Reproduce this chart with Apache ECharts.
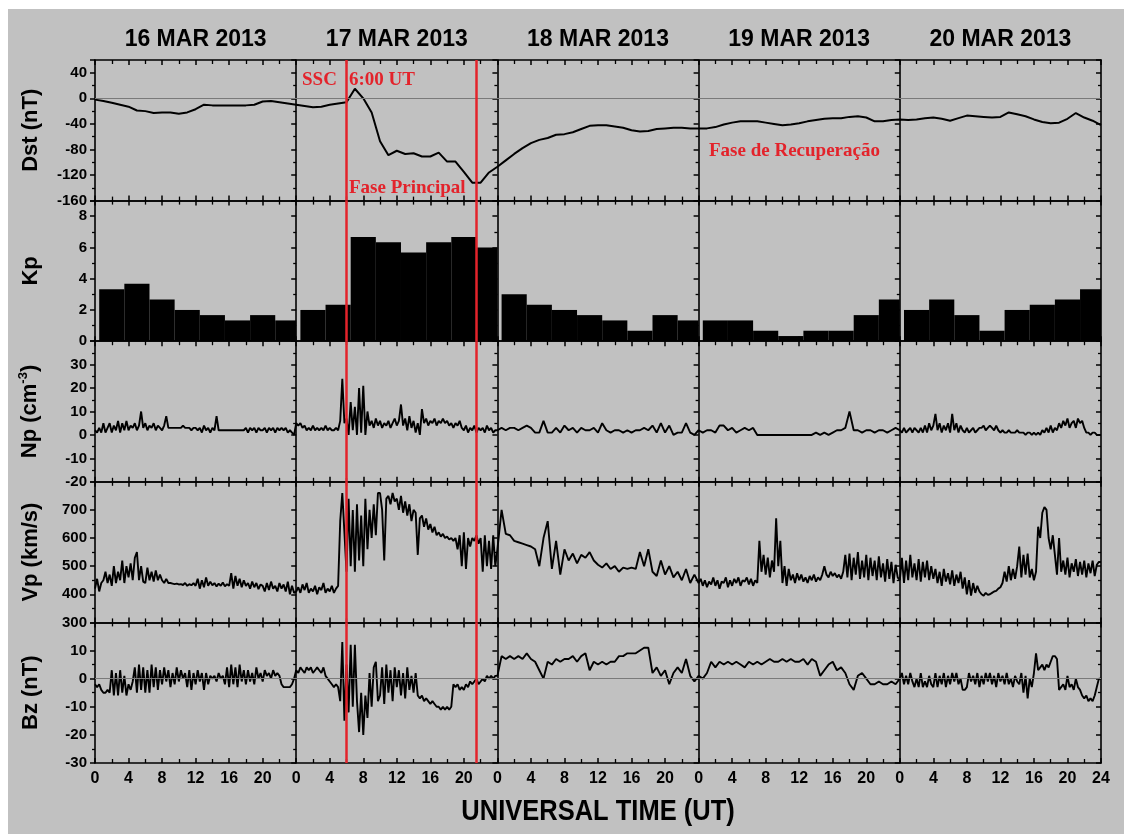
<!DOCTYPE html>
<html>
<head>
<meta charset="utf-8">
<script src="https://cdn.jsdelivr.net/npm/echarts@6/dist/echarts.min.js"></script>
<style>
html, body { margin: 0; padding: 0; background: #fff; }
#main { width: 1124px; height: 834px; }
</style>
</head>
<body>
<div id="main"></div>
<script>
// dias
var days = ['16 MAR 2013', '17 MAR 2013', '18 MAR 2013', '19 MAR 2013', '20 MAR 2013'];

// Dst horario (nT), 0h do dia 16 ate 24h do dia 20
var dst = [
    -2, -4, -7, -10, -13, -19, -20, -23, -22, -22, -24, -22, -17, -10, -11, -11, -11, -11, -11, -10, -5, -4, -6, -8,
    -10, -12, -14, -13, -10, -8, -6, 15, 0, -22, -67, -89, -82, -87, -86, -91, -91, -85, -99, -99, -115, -132, -132, -116,
    -107, -97, -87, -78, -70, -65, -62, -57, -56, -53, -48, -43, -42, -42, -44, -46, -50, -52, -51, -48, -47, -46, -46, -47,
    -47, -47, -45, -41, -38, -36, -36, -36, -38, -40, -42, -41, -39, -36, -34, -32, -31, -31, -29, -28, -30, -36, -36, -34,
    -33, -34, -33, -31, -30, -32, -35, -31, -27, -28, -29, -30, -29, -22, -25, -28, -33, -37, -39, -38, -32, -23, -30, -35,
    -42
];

// Kp a cada 3 horas
var kp = [
    3.33, 3.67, 2.67, 2, 1.67, 1.33, 1.67, 1.33,
    2, 2.33, 6.67, 6.33, 5.67, 6.33, 6.67, 6,
    3, 2.33, 2, 1.67, 1.33, 0.67, 1.67, 1.33,
    1.33, 1.33, 0.67, 0.33, 0.67, 0.67, 1.67, 2.67,
    2, 2.67, 1.67, 0.67, 2, 2.33, 2.67, 3.33
];

// Np (cm-3) -- 48 pontos/dia = 30 min, 96 pontos/dia = 15 min
var np16 = [
    2, 1, 3, 1, 5, 1, 3, 5, 1, 4, 2, 6, 1, 5, 2, 6, 2, 4, 3, 5, 2, 4, 10, 3,
    5, 2, 4, 3, 5, 2, 4, 3, 2, 4, 8, 3, 3, 3, 3, 3, 3, 3, 4, 3, 3, 3, 2, 3,
    3, 2, 3, 1, 4, 2, 3, 1, 3, 2, 8, 2, 2, 2, 2, 2, 2, 2, 2, 2, 2, 2, 2, 2,
    3, 1, 3, 2, 3, 1, 3, 2, 2, 3, 1, 3, 2, 3, 1, 3, 2, 3, 2, 3, 1, 2, 1, 0
];
var np17 = [
    5, 4, 5, 3, 4, 2, 3, 2, 4, 2, 3, 2, 3, 2, 4, 2, 3, 2, 2, 3, 2, 6, 24, 5,
    7, 0, 14, 2, 12, 0, 20, 1, 21, 0, 10, 4, 6, 3, 7, 4, 6, 3, 5, 4, 6, 3, 5, 7,
    4, 6, 13, 4, 7, 2, 8, 3, 6, 1, 5, 0, 11, 5, 7, 4, 6, 5, 7, 4, 6, 5, 7, 5,
    6, 4, 5, 3, 5, 4, 6, 3, 2, 4, 1, 3, 2, 4, 1, 3, 2, 3, 1, 4, 2, 3, 1, 2
];
var np18 = [2, 3, 2, 3, 3, 2, 3, 4, 3, 1, 1, 6, 1, 1, 3, 1, 4, 2, 3, 1, 3, 2, 2, 3, 1, 5, 2, 1, 2, 2, 1, 2, 1, 2, 2, 3, 2, 4, 1, 5, 1, 4, 0, 1, 1, 5, 1, 0];
var np19 = [2, 1, 2, 2, 1, 4, 4, 2, 3, 1, 2, 3, 2, 3, 0, 0, 0, 0, 0, 0, 0, 0, 0, 0, 0, 0, 0, 0, 1, 0, 1, 0, 1, 2, 2, 3, 10, 2, 2, 1, 2, 2, 1, 2, 2, 1, 2, 3];
var np20 = [
    2, 1, 3, 1, 2, 3, 1, 3, 2, 1, 3, 1, 4, 1, 5, 2, 4, 9, 2, 5, 1, 4, 2, 5,
    1, 9, 2, 5, 1, 4, 2, 1, 3, 1, 2, 3, 1, 2, 3, 3, 4, 2, 3, 4, 3, 2, 4, 2,
    1, 2, 1, 1, 2, 1, 1, 1, 2, 1, 1, 1, 0, 1, 1, 0, 1, 0, 1, 0, 2, 1, 3, 1,
    4, 1, 3, 2, 5, 3, 6, 4, 7, 3, 5, 6, 3, 7, 5, 6, 3, 1, 1, 0, 1, 1, 0, 0
];

// Vp (km/s)
var vp16 = [
    420, 455, 410, 440, 450, 480, 440, 470, 430, 500, 440, 480, 450, 520, 440, 500,
    460, 510, 450, 530, 550, 450, 500, 445, 440, 495, 450, 480, 445, 485, 450, 470,
    450, 440, 455, 440, 440, 438, 436, 438, 435, 436, 433, 440, 430, 436, 432, 440,
    430, 455, 420, 450, 425, 460, 430, 445, 432, 440, 428, 438, 430, 442, 428, 436,
    430, 475, 420, 465, 430, 455, 425, 450, 430, 440, 420, 445, 425, 440, 418, 435,
    430, 410, 440, 415, 445, 420, 430, 410, 440, 420, 435, 410, 445, 400, 430, 405
];
var vp17 = [
    410, 425, 405, 435, 415, 440, 405, 420, 410, 430, 400, 425, 415, 440, 405, 420,
    410, 430, 405, 420, 430, 660, 760, 620, 480, 740, 500, 700, 480, 720, 520, 680,
    500, 740, 560, 700, 600, 720, 610, 760, 760, 700, 520, 740, 750, 720, 760, 730,
    740, 700, 750, 690, 730, 680, 720, 660, 700, 690, 540, 670, 680, 640, 670, 630,
    650, 620, 640, 610, 620, 605, 615, 600, 605, 595, 600, 590, 600, 560, 610, 500,
    620, 490, 600, 570, 600, 590, 610, 580, 600, 480, 610, 500, 590, 490, 610, 500
];
var vp18 = [560, 700, 615, 610, 590, 585, 580, 575, 570, 560, 500, 600, 660, 490, 590, 470, 560, 520, 545, 510, 540, 530, 550, 520, 505, 495, 510, 490, 500, 480, 495, 490, 495, 490, 550, 500, 560, 480, 465, 520, 470, 500, 460, 480, 450, 490, 440, 470];
var vp19 = [
    440, 455, 430, 450, 425, 445, 435, 460, 430, 450, 420, 445, 440, 460, 425, 450,
    430, 455, 440, 460, 430, 450, 445, 460, 435, 455, 430, 450, 440, 590, 480, 540,
    470, 530, 460, 520, 480, 670, 500, 590, 440, 500, 430, 490, 450, 470, 440, 475,
    450, 470, 445, 460, 440, 465, 450, 470, 445, 460, 450, 470, 500, 470, 460, 480,
    465, 475, 460, 470, 455, 480, 540, 460, 545, 450, 530, 470, 550, 455, 520, 460,
    540, 450, 530, 465, 520, 450, 535, 460, 510, 445, 525, 455, 515, 440, 505, 460
];
var vp20 = [
    450, 530, 440, 520, 450, 540, 460, 510, 450, 525, 445, 515, 460, 520, 450, 500,
    455, 490, 440, 480, 430, 490, 445, 475, 435, 485, 430, 470, 440, 480, 420, 460,
    400, 450, 395, 440, 405, 430, 410, 400, 395, 405, 398, 400, 405, 410, 412, 420,
    425, 440, 480, 445, 500, 450, 490, 455, 500, 570, 460, 540, 470, 545, 460, 490,
    450, 480, 640, 600, 690, 710, 700, 600, 560, 610, 540, 470, 600, 480, 520, 470,
    530, 460, 510, 480, 525, 465, 515, 470, 520, 460, 510, 475, 520, 465, 505, 515
];

// Bz (nT)
var bz16 = [
    -2, -3, -2, -4, -5, -5, -4, -5, 3, -6, 2, -6, 3, -5, 1, -6,
    -2, -4, -1, 4, -5, 5, -4, 4, -5, 3, -5, 5, -3, 4, -4, 3,
    -2, 4, -1, 3, -3, 2, -2, 4, -1, 3, 0, 2, -3, 3, -4, 2,
    -2, 3, -1, 2, -4, 2, -2, 1, 0, 1, -1, 2, 0, 1, -2, 4,
    -3, 5, -2, 4, -3, 5, -1, 3, -2, 3, -1, 2, -2, 4, 0, 2,
    -1, 3, 1, 2, 0, 3, 1, 2, 1, -2, -3, -3, -3, -3, -2, 0
];
var bz17 = [
    3, 2, 4, 3, 2, 4, 3, 4, 2, 3, 4, 3, 2, 4, 1, 0,
    -1, -2, -3, -2, -3, -8, 13, -15, 5, -12, 12, -10, 12, -8, -19, -5,
    -20, -6, -14, 2, -10, 4, 6, -8, -6, 4, -9, 5, -5, 3, -8, 4,
    -3, 3, -6, 2, -7, 4, -4, 1, -5, 2, -6, -7, -6, -8, -7, -8,
    -9, -8, -9, -10, -10, -11, -10, -11, -10, -11, -10, -2, -3, -2, -4, -3,
    -4, -2, -3, -1, -2, -1, 0, -2, -1, 0, -1, 1, 0, 1, 0, 1
];
var bz18 = [1, 8, 7, 8, 7, 8, 7, 9, 7, 6, 3, 0, 6, 5, 7, 6, 7, 7, 8, 6, 8, 9, 3, 6, 5, 6, 5, 6, 6, 8, 8, 9, 9, 9, 10, 11, 11, 2, 4, 1, 3, -2, 2, 4, 2, 7, 1, -1];
var bz19 = [1, 0, 2, 6, 4, 6, 5, 6, 5, 6, 5, 4, 6, 5, 6, 5, 6, 7, 6, 6, 7, 6, 7, 6, 6, 7, 5, 7, 6, 1, 3, 5, 6, 3, 4, 2, -2, -4, 1, 2, 0, -2, -2, -1, -2, -2, -1, -2];
var bz20 = [
    0, 2, -2, 1, -2, 2, -1, -3, 0, -3, 2, -3, -1, -3, 1, -2,
    -3, 2, -3, 1, -2, 2, -3, 1, -2, 2, -1, 2, -2, 0, -4, -4,
    -3, 2, -1, 1, -2, 2, -3, 1, -2, 2, -1, 2, -2, 1, -3, 2,
    -1, 1, -2, 2, -2, 0, -3, 1, -1, -2, 2, -5, 1, -7, 0, -3,
    2, 9, 3, 4, 5, 3, 5, 4, 6, 8, 8, 7, -4, -3, -2, -4,
    1, -3, -2, -4, 0, -3, -4, -6, -7, -6, -8, -7, -8, -6, -3, 0
];

// eventos (hora desde 0h de 16/03)
var ssc = 30, fimPrincipal = 45.5;

// layout
var L = 95, R = 1101, T = 60, B = 763;
var rowH = (B - T) / 5;
var colW = (R - L) / 5;
var FONT = '"Liberation Sans", Arial, sans-serif';
var SERIF = '"Liberation Serif", "Times New Roman", serif';
var RED = '#e3232b';

var rows = [
    {name: 'Dst (nT)', min: -160, max: 60, interval: 40},
    {name: 'Kp', min: 0, max: 9, interval: 2},
    {name: 'Np (cm{sup|-3})', min: -20, max: 40, interval: 10},
    {name: 'Vp (km/s)', min: 300, max: 800, interval: 100},
    {name: 'Bz (nT)', min: -30, max: 20, interval: 10}
];

// junta os dias numa serie [hora, valor]; cada dia pode ter sua resolucao
function byDay(arrs) {
    var out = [];
    arrs.forEach(function(a, d) {
        var step = 24 / a.length;
        a.forEach(function(v, i) {
            out.push([d * 24 + i * step, v]);
        });
    });
    var last = arrs[arrs.length - 1];
    out.push([120, last[last.length - 1]]);
    return out;
}

var lineAxis = {color: '#000', width: 1.6};

var grids = [], xAxes = [], yAxes = [];
rows.forEach(function(r, i) {
    grids.push({left: L, right: 1124 - R, top: T + i * rowH, height: rowH});

    ['bottom', 'top'].forEach(function(pos) {
        var lbl = (i === 4 && pos === 'bottom');
        xAxes.push({
            type: 'value', gridIndex: i, position: pos, min: 0, max: 120, interval: 4,
            axisLine: {show: true, onZero: false, lineStyle: lineAxis},
            axisTick: {show: true, inside: true, length: 5, lineStyle: {color: '#000', width: 1.5}},
            minorTick: {show: true, splitNumber: 2, length: 4, lineStyle: {color: '#000', width: 1.3}},
            splitLine: {show: false},
            axisLabel: {
                show: lbl, margin: 8, color: '#000', fontWeight: 'bold', fontSize: 16, fontFamily: FONT,
                formatter: function(v) { return v === 120 ? '24' : String(v % 24); }
            }
        });
    });

    // eixo principal + separadores dos dias + borda direita
    for (var k = 0; k <= 5; k++) {
        var main = (k === 0);
        yAxes.push({
            type: 'value', gridIndex: i,
            position: k === 5 ? 'right' : 'left',
            offset: (k === 0 || k === 5) ? 0 : -colW * k,
            min: r.min, max: r.max, interval: r.interval,
            axisLine: {show: true, onZero: false, lineStyle: lineAxis},
            axisTick: {show: true, inside: k === 5, length: 5, lineStyle: {color: '#000', width: 1.5}},
            minorTick: {show: true, splitNumber: 2, length: 3, lineStyle: {color: '#000', width: 1.3}},
            splitLine: {show: false},
            axisLabel: {
                show: main, margin: 8, color: '#000', fontWeight: 'bold', fontSize: 15, fontFamily: FONT,
                formatter: (function(mx) { return function(v) { return v === mx ? '' : v; }; })(r.max)
            },
            name: main ? r.name : '',
            nameLocation: 'middle', nameGap: 53, nameRotate: 90,
            nameTextStyle: {
                color: '#000', fontWeight: 'bold', fontSize: 22, fontFamily: FONT,
                rich: {sup: {fontSize: 13, fontWeight: 'bold', fontFamily: FONT, color: '#000', padding: [0, 0, 12, 0]}}
            }
        });
    }
});

function marks(zero) {
    var d = [
        {xAxis: ssc, lineStyle: {color: RED, width: 2.5, type: 'solid'}},
        {xAxis: fimPrincipal, lineStyle: {color: RED, width: 2.5, type: 'solid'}}
    ];
    if (zero) d.unshift({yAxis: 0, lineStyle: {color: '#7a7a7a', width: 1, type: 'solid'}});
    return {silent: true, symbol: 'none', label: {show: false}, animation: false, data: d};
}

function noisy(name, xi, yi, arrs) {
    return {
        name: name, type: 'line', xAxisIndex: xi, yAxisIndex: yi, symbol: 'none',
        data: byDay(arrs),
        lineStyle: {color: '#000', width: 1.9}, markLine: marks(name === 'Bz')
    };
}

var series = [
    {
        name: 'Dst', type: 'line', xAxisIndex: 0, yAxisIndex: 0, symbol: 'none',
        data: dst.map(function(v, i) { return [i, v]; }),
        lineStyle: {color: '#000', width: 2}, markLine: marks(true)
    },
    {
        name: 'Kp', type: 'custom', xAxisIndex: 2, yAxisIndex: 6,
        data: kp.map(function(v, i) { return [i * 3, v]; }),
        encode: {x: 0, y: 1},
        renderItem: function(params, api) {
            var s = api.value(0), v = api.value(1);
            var dayEnd = (Math.floor(s / 24) + 1) * 24;
            var a = api.coord([s + 0.5, v]);
            var b = api.coord([Math.min(s + 3.5, dayEnd), 0]);
            return {type: 'rect', shape: {x: a[0], y: a[1], width: b[0] - a[0], height: b[1] - a[1]}, style: {fill: '#000'}};
        },
        markLine: marks(false)
    },
    noisy('Np', 4, 12, [np16, np17, np18, np19, np20]),
    noisy('Vp', 6, 18, [vp16, vp17, vp18, vp19, vp20]),
    noisy('Bz', 8, 24, [bz16, bz17, bz18, bz19, bz20])
];

function txt(x, y, s, font, color, align) {
    return {
        type: 'text', x: x, y: y, silent: true,
        style: {text: s, font: font, fill: color, align: align, textAlign: align, verticalAlign: 'middle', textVerticalAlign: 'middle'}
    };
}

var graphics = [
    {type: 'rect', shape: {x: 0, y: 0, width: 1124, height: 9}, style: {fill: '#fff'}, silent: true},
    {type: 'rect', shape: {x: 0, y: 0, width: 8, height: 834}, style: {fill: '#fff'}, silent: true}
];
days.forEach(function(d, i) {
    graphics.push(txt(L + colW * (i + 0.5), 40, d, 'bold 23px ' + FONT, '#000', 'center'));
});
// titulo do eixo x, um pouco estreitado como no original
var xName = txt((L + R) / 2, 812, 'UNIVERSAL TIME (UT)', 'bold 30px ' + FONT, '#000', 'center');
xName.scaleX = 0.85;
graphics.push(xName);
graphics.push(txt(302, 80, 'SSC', 'bold 19px ' + SERIF, RED, 'left'));
graphics.push(txt(349, 80, '6:00 UT', 'bold 19px ' + SERIF, RED, 'left'));
graphics.push(txt(349, 188, 'Fase Principal', 'bold 19px ' + SERIF, RED, 'left'));
graphics.push(txt(709, 151, 'Fase de Recuperação', 'bold 19px ' + SERIF, RED, 'left'));

var myChart = echarts.init(document.getElementById('main'));
myChart.setOption({
    backgroundColor: '#c1c1c1',
    animation: false,
    grid: grids,
    xAxis: xAxes,
    yAxis: yAxes,
    series: series,
    graphic: graphics
});
</script>
</body>
</html>
